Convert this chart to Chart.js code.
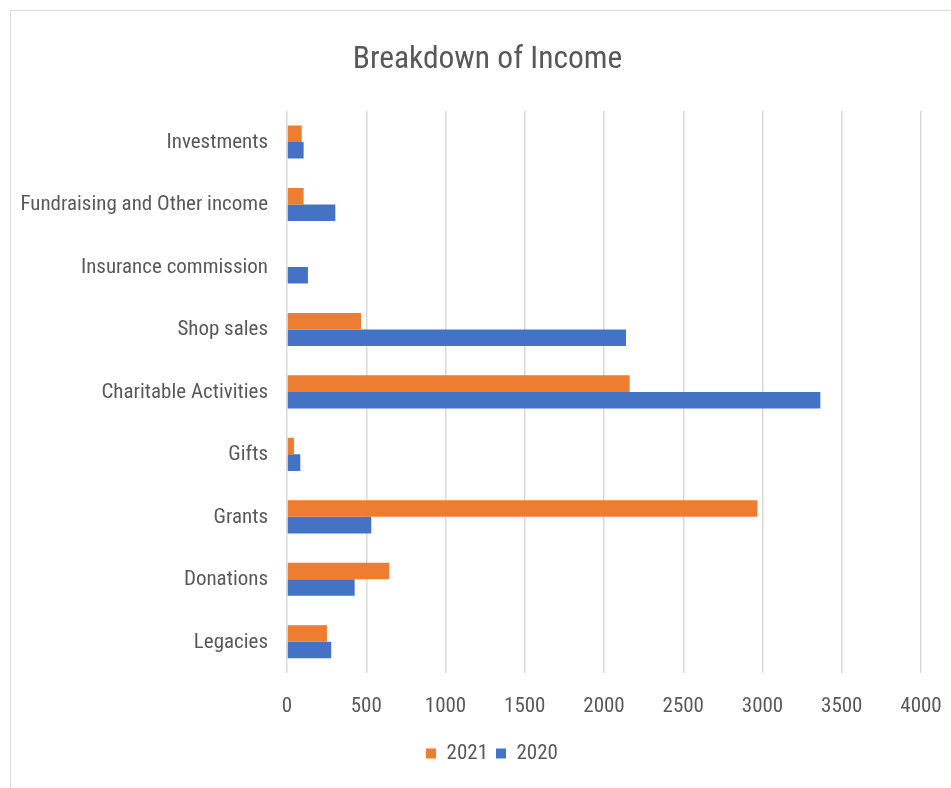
<!DOCTYPE html>
<html>
<head>
<meta charset="utf-8">
<script src="https://cdn.jsdelivr.net/npm/chart.js@4/dist/chart.umd.min.js"></script>
<style>
  html, body { margin: 0; padding: 0; background: #ffffff; overflow: hidden; }
  #frame { position: absolute; left: 10px; top: 10px; width: 960px; height: 800px; border-left: 1px solid #d9d9d9; border-top: 1px solid #d9d9d9; }
  #wrap { position: absolute; left: 0; top: 0; width: 951px; height: 788px; }
</style>
</head>
<body>
<div id="frame"></div>
<div id="wrap"><canvas id="c" width="951" height="788"></canvas></div>
<script>
const categories = ["Investments", "Fundraising and Other income", "Insurance commission", "Shop sales", "Charitable Activities", "Gifts", "Grants", "Donations", "Legacies"];
const values2021 = [93, 105, 0, 467, 2162, 44, 2968, 645, 252];
const values2020 = [105, 305, 132, 2139, 3365, 84, 532, 427, 279];
const seriesNames = ["2021", "2020"];
const xTicks = [0, 500, 1000, 1500, 2000, 2500, 3000, 3500, 4000];

const FONT = "'Roboto Condensed', 'DejaVu Sans Condensed', sans-serif";
const TXT = "#595959";

const shiftBlocks = {
  id: "shiftBlocks",
  afterLayout(chart) {
    if (chart.titleBlock) { chart.titleBlock.left = 54; chart.titleBlock.right = 921; }
    if (chart.legend) { chart.legend.left = 63; chart.legend.right = 921; }
  }
};

new Chart(document.getElementById("c"), {
  type: "bar",
  data: {
    labels: categories,
    datasets: [
      { label: seriesNames[0], data: values2021, backgroundColor: "#ED7D31", borderWidth: 0 },
      { label: seriesNames[1], data: values2020, backgroundColor: "#4472C4", borderWidth: 0 }
    ]
  },
  plugins: [shiftBlocks],
  options: {
    indexAxis: "y",
    responsive: false,
    animation: false,
    devicePixelRatio: 1,
    datasets: { bar: { categoryPercentage: 0.53, barPercentage: 1.0 } },
    layout: { padding: { left: 0, right: 30, top: 41, bottom: 14 } },
    plugins: {
      title: {
        display: true,
        text: "Breakdown of Income",
        color: TXT,
        font: { family: FONT, size: 31.5, weight: "normal" },
        padding: { top: 0, bottom: 32 }
      },
      legend: {
        position: "bottom",
        labels: {
          color: TXT,
          font: { family: FONT, size: 21 },
          boxWidth: 10,
          boxHeight: 10,
          padding: 8
        }
      },
      tooltip: { enabled: false }
    },
    scales: {
      x: {
        min: 0,
        max: 4000,
        afterBuildTicks: (s) => { s.ticks = xTicks.map(v => ({ value: v })); },
        ticks: { color: TXT, font: { family: FONT, size: 21 }, padding: 21, callback: (v) => String(v) },
        grid: { color: "#d9d9d9", lineWidth: 1.5, drawTicks: false },
        border: { display: false },
        afterFit: (s) => { s.height = 62; s.paddingLeft = 0; s.paddingRight = 0; }
      },
      y: {
        ticks: { color: TXT, font: { family: FONT, size: 21 }, padding: 19, labelOffset: 0.5 },
        grid: { display: false, drawTicks: false },
        border: { display: false },
        afterFit: (s) => { s.width = 287; s.paddingTop = 0; s.paddingBottom = 0; }
      }
    }
  }
});
</script>
</body>
</html>
